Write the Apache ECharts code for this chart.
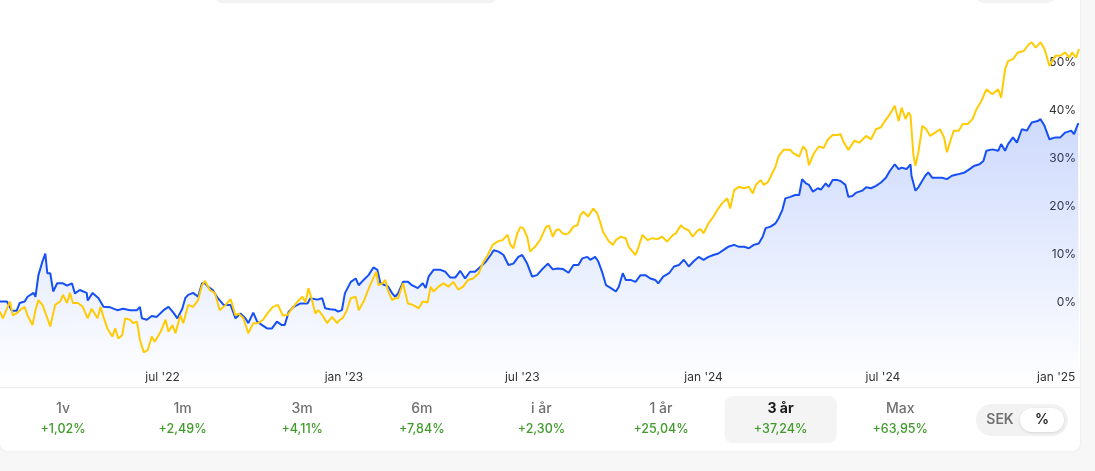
<!DOCTYPE html>
<html>
<head>
<meta charset="utf-8">
<script src="https://cdn.jsdelivr.net/npm/echarts@6/dist/echarts.min.js"></script>
<style>
  html, body { margin: 0; padding: 0; background: #f7f7f7; }
  #chart { width: 1095px; height: 471px; }
</style>
</head>
<body>
<div id="chart"></div>
<script>
// ---- data (day offsets from the first date, value in %) ----
const startDate = '2022-01-17';
const endDay = 1095;

const stockSeries = [[0,0.2],[7,0.2],[12,-1.7],[17,-1.7],[20,-0.1],[25,0.2],[28,1.2],[34,2.0],[36,1.2],[39,5.7],[43,8.5],[46,10.2],[48,6.1],[51,6.1],[54,2.3],[58,4.0],[64,4.0],[68,3.5],[73,4.0],[76,1.9],[81,2.6],[88,2.0],[89,0.4],[94,2.0],[100,0.9],[105,-0.9],[112,-1.0],[119,-1.6],[125,-1.3],[132,-1.6],[139,-1.6],[142,-0.9],[144,-3.3],[149,-3.6],[154,-2.8],[159,-3.0],[166,-1.6],[171,-0.9],[176,-2.1],[180,-3.3],[185,-1.3],[188,0.9],[191,1.6],[196,2.0],[201,1.2],[205,4.0],[208,4.0],[211,3.3],[216,2.6],[221,0.9],[227,-0.5],[234,-0.5],[239,-3.3],[244,-2.3],[249,-3.3],[252,-4.3],[257,-2.1],[261,-4.0],[266,-4.7],[271,-5.4],[276,-5.4],[281,-4.0],[286,-4.7],[289,-4.7],[293,-1.9],[298,-0.9],[305,-0.2],[312,-0.2],[315,0.9],[322,0.6],[327,0.9],[330,-1.2],[335,-1.4],[340,-1.5],[343,-1.9],[347,-1.6],[350,1.9],[356,4.3],[361,5.0],[364,3.6],[369,4.7],[374,5.7],[379,7.3],[383,6.8],[386,4.0],[391,3.6],[394,3.3],[398,1.9],[401,1.2],[404,1.9],[409,4.3],[414,4.3],[418,3.6],[424,3.0],[429,4.0],[432,3.0],[435,5.4],[440,6.8],[447,6.8],[452,6.4],[457,5.2],[462,5.2],[467,6.6],[472,5.0],[477,6.4],[482,6.4],[488,7.5],[493,8.5],[498,9.9],[501,10.9],[506,10.6],[511,9.9],[516,7.8],[521,8.1],[526,9.5],[530,9.9],[535,8.1],[540,5.4],[545,5.7],[551,7.1],[556,8.1],[561,6.9],[566,7.1],[571,7.0],[577,6.2],[582,7.8],[587,7.8],[591,9.2],[596,9.5],[599,8.9],[604,9.5],[607,8.6],[611,6.4],[615,3.6],[620,3.0],[625,2.3],[628,3.3],[632,6.1],[635,4.7],[640,4.7],[645,4.3],[650,5.7],[655,5.7],[660,5.0],[665,4.7],[668,4.0],[673,5.4],[679,6.1],[684,7.5],[689,7.8],[694,8.9],[699,7.5],[704,8.6],[709,9.5],[714,8.9],[719,9.5],[724,9.9],[729,10.2],[734,10.9],[739,11.6],[745,12.0],[750,11.6],[755,11.6],[760,11.3],[765,12.0],[770,12.3],[774,13.7],[777,15.5],[782,15.8],[787,16.5],[790,17.5],[794,19.3],[797,21.7],[802,22.0],[807,22.4],[811,22.4],[814,25.7],[818,24.8],[821,24.5],[825,23.1],[830,23.8],[833,23.5],[838,24.8],[841,24.1],[845,25.5],[850,25.5],[853,25.3],[858,24.5],[861,22.0],[865,22.2],[869,22.9],[875,23.3],[879,24.0],[884,23.8],[889,24.3],[894,25.0],[899,26.0],[903,27.4],[908,28.8],[912,27.8],[915,28.1],[920,27.8],[924,28.8],[925,26.4],[929,23.3],[932,24.0],[939,26.4],[942,27.1],[946,26.0],[951,26.0],[956,26.0],[961,25.7],[966,26.4],[972,26.7],[979,27.1],[984,27.8],[989,28.5],[994,28.8],[998,29.5],[1001,31.6],[1007,31.9],[1013,31.6],[1016,33.0],[1020,31.6],[1023,33.0],[1028,34.4],[1032,33.3],[1037,36.1],[1042,35.8],[1047,37.5],[1053,37.8],[1056,38.2],[1060,36.8],[1065,34.0],[1071,34.4],[1076,34.4],[1081,35.4],[1087,35.8],[1090,35.1],[1094,37.2],[1095,37.24]];

const indexSeries = [[0,-1.9],[3,-3.3],[7,-1.3],[10,0.2],[13,-2.7],[18,-2.1],[22,-1.3],[25,-0.9],[28,-2.7],[33,-4.7],[36,-1.6],[39,0.5],[43,-0.5],[46,-2.1],[51,-5.0],[56,-0.5],[61,0.2],[64,1.6],[68,-0.1],[71,2.0],[74,-0.1],[79,-0.1],[84,-0.9],[89,-3.3],[93,-1.3],[99,-3.3],[102,-0.9],[105,-3.0],[109,-5.4],[114,-7.1],[117,-5.4],[120,-7.5],[124,-6.8],[127,-3.3],[132,-3.6],[135,-4.3],[139,-4.0],[142,-7.8],[146,-10.4],[150,-9.9],[154,-7.1],[157,-8.2],[163,-6.1],[168,-3.6],[171,-6.1],[175,-4.7],[178,-6.4],[183,-2.7],[186,-4.3],[191,-0.5],[196,-0.9],[201,0.5],[205,3.6],[208,4.5],[213,2.6],[218,2.0],[223,-1.6],[229,-0.5],[234,0.7],[239,-2.7],[242,-2.3],[247,-3.3],[252,-6.4],[257,-4.3],[262,-4.3],[267,-3.6],[272,-2.1],[277,-0.9],[282,-0.5],[287,-2.7],[292,-2.6],[295,-1.6],[302,0.2],[307,1.2],[310,0.0],[313,3.0],[317,0.2],[320,-2.3],[323,-1.6],[328,-2.9],[332,-4.3],[337,-3.0],[342,-4.3],[345,-3.6],[348,-3.2],[352,-1.6],[356,0.9],[361,1.2],[364,-1.6],[369,0.2],[373,2.3],[378,4.7],[382,6.4],[384,3.6],[388,4.0],[391,4.7],[394,2.3],[398,0.5],[401,0.9],[404,0.9],[409,4.0],[414,-0.2],[419,-0.5],[425,-1.2],[429,0.2],[434,0.0],[437,3.3],[440,2.3],[445,3.3],[450,4.0],[455,3.3],[460,4.3],[465,2.7],[470,3.3],[475,4.7],[480,5.0],[486,6.1],[490,8.2],[495,9.9],[500,12.0],[505,12.7],[510,13.0],[515,14.1],[518,12.0],[521,11.3],[525,14.4],[528,15.7],[531,15.5],[535,13.7],[538,10.6],[543,11.6],[548,13.0],[554,15.7],[557,16.1],[561,13.7],[564,15.0],[567,15.3],[571,14.4],[574,14.2],[577,14.4],[582,15.8],[586,16.1],[589,18.2],[592,18.9],[597,17.9],[602,19.6],[606,18.6],[609,16.8],[612,14.7],[618,12.7],[622,12.0],[625,13.0],[630,13.7],[635,13.4],[638,11.6],[642,10.6],[645,9.9],[648,11.6],[652,14.1],[657,13.0],[662,13.4],[667,13.2],[672,13.7],[677,12.7],[683,14.1],[686,14.4],[691,16.1],[694,15.5],[699,15.0],[703,13.7],[708,15.0],[711,15.3],[714,14.4],[719,16.5],[724,17.9],[729,19.6],[733,20.7],[738,21.7],[741,19.6],[745,23.4],[750,24.1],[755,23.8],[760,24.1],[764,22.7],[767,24.5],[772,25.5],[775,24.5],[779,25.0],[782,26.2],[787,28.3],[790,30.4],[795,31.8],[802,31.8],[805,31.1],[811,30.4],[815,32.5],[818,31.8],[821,28.6],[826,31.1],[831,32.5],[836,32.2],[840,33.9],[845,34.9],[850,34.9],[853,35.1],[856,33.5],[861,31.8],[867,33.7],[872,33.3],[879,34.7],[884,34.0],[889,36.1],[894,36.5],[898,37.8],[903,39.2],[908,41.0],[912,37.8],[915,40.6],[919,38.2],[922,39.6],[924,39.0],[927,30.6],[929,28.5],[932,31.3],[936,36.8],[940,36.1],[944,34.7],[949,35.4],[954,36.1],[958,34.4],[961,31.3],[965,34.0],[968,35.8],[973,35.8],[977,37.2],[982,37.2],[987,38.2],[991,40.3],[996,42.0],[1001,44.4],[1007,43.4],[1013,44.4],[1016,42.7],[1020,48.6],[1023,50.3],[1028,50.7],[1033,52.1],[1039,52.4],[1044,53.8],[1047,54.2],[1051,53.1],[1056,54.2],[1060,52.8],[1065,49.3],[1071,51.4],[1076,51.4],[1081,52.1],[1085,51.0],[1088,52.1],[1092,51.0],[1095,52.8]];

const xTickDates  = ['2022-07-01','2023-01-01','2023-07-01','2024-01-01','2024-07-01','2025-01-01'];
const xTickLabels = ["jul '22","jan '23","jul '23","jan '24","jul '24","jan '25"];
const yTickValues = [0, 10, 20, 30, 40, 50];

const periodLabels = ['1v','1m','3m','6m','i år','1 år','3 år','Max'];
const periodValues = ['+1,02%','+2,49%','+4,11%','+7,84%','+2,30%','+25,04%','+37,24%','+63,95%'];
const selectedPeriod = '3 år';
const unitLabels = ['SEK','%'];

// ---- build ----
const DAY = 86400000;
function parseUTC(s){ const p = s.split('-').map(Number); return Date.UTC(p[0], p[1]-1, p[2]); }
const t0 = parseUTC(startDate);
const xTickDays = xTickDates.map(s => Math.round((parseUTC(s) - t0) / DAY));

const BLUE = '#1650F5';
const YELLOW = '#FFCB05';
const FONT = 'Inter, "Noto Sans", sans-serif';

const chart = echarts.init(document.getElementById('chart'), null, { renderer: 'canvas' });

const graphics = [];
graphics.push({ type:'rect', z:-100, silent:true, shape:{x:0, y:-20, width:1080, height:471, r:8},
  style:{fill:'#ffffff', shadowBlur:3, shadowColor:'rgba(0,0,0,0.08)'} });
graphics.push({ type:'rect', z:-90, silent:true, shape:{x:216, y:-20, width:280, height:23, r:6}, style:{fill:'#f3f3f3'} });
graphics.push({ type:'rect', z:-90, silent:true, shape:{x:977, y:-20, width:77, height:23, r:6}, style:{fill:'#f3f3f3'} });
graphics.push({ type:'line', z:10, silent:true, shape:{x1:0, y1:387.5, x2:1080, y2:387.5}, style:{stroke:'#ececec', lineWidth:1} });

const pStart = 63, pStep = 119.6;
periodLabels.forEach((lab, i) => {
  const cx = pStart + i * pStep;
  const sel = lab === selectedPeriod;
  if (sel) {
    graphics.push({ type:'rect', z:5, silent:true, shape:{x:cx-56, y:396, width:112, height:47, r:8}, style:{fill:'#f4f4f4'} });
  }
  graphics.push({ type:'text', z:12, silent:true, x:cx, y:409, style:{ text:lab, fill: sel ? '#1a1a1a' : '#707070',
    font: (sel ? 'bold ' : '500 ') + '14px ' + FONT, align:'center', verticalAlign:'middle' } });
  graphics.push({ type:'text', z:12, silent:true, x:cx, y:429, style:{ text:periodValues[i], fill:'#3f9c2a',
    font:'500 12.5px ' + FONT, align:'center', verticalAlign:'middle' } });
});
graphics.push({ type:'rect', z:5, silent:true, shape:{x:976, y:404, width:92, height:32, r:16}, style:{fill:'#f2f2f2'} });
graphics.push({ type:'rect', z:6, silent:true, shape:{x:1020, y:408, width:44, height:24, r:12},
  style:{fill:'#ffffff', shadowBlur:3, shadowColor:'rgba(0,0,0,0.12)', shadowOffsetY:1} });
graphics.push({ type:'text', z:12, silent:true, x:1000, y:420, style:{ text:unitLabels[0], fill:'#707070',
  font:'600 14px ' + FONT, align:'center', verticalAlign:'middle' } });
graphics.push({ type:'text', z:12, silent:true, x:1042, y:420, style:{ text:unitLabels[1], fill:'#1a1a1a',
  font:'600 14px ' + FONT, align:'center', verticalAlign:'middle' } });

const option = {
  animation: false,
  backgroundColor: '#f7f7f7',
  graphic: { elements: graphics },
  grid: { left: 0, right: 16, top: 2.5, bottom: 84.5, containLabel: false },
  xAxis: {
    type: 'value',
    min: 0, max: endDay,
    axisLine: { show: false }, axisTick: { show: false }, splitLine: { show: false },
    axisLabel: {
      customValues: xTickDays,
      showMinLabel: true, showMaxLabel: true,
      inside: true, margin: 3,
      color: '#333', fontSize: 12, fontFamily: FONT,
      formatter: function (val) {
        let best = 0, bd = Infinity;
        xTickDays.forEach((t, i) => { const d = Math.abs(t - val); if (d < bd) { bd = d; best = i; } });
        const s = xTickLabels[best];
        return best === xTickLabels.length - 1 ? '{e|' + s + '}' : s;
      },
      rich: { e: { color:'#333', fontSize:12, fontFamily:FONT, padding:[0,16,0,0] } }
    }
  },
  yAxis: {
    type: 'value', position: 'right',
    min: -17.5, max: 62.5,
    axisLine: { show: false }, axisTick: { show: false }, splitLine: { show: false },
    axisLabel: {
      customValues: yTickValues,
      inside: true, margin: 3,
      color: '#333', fontSize: 12, fontFamily: FONT,
      formatter: '{value}%'
    }
  },
  series: [
    {
      type: 'line', name: 'stock', z: 3,
      data: stockSeries,
      showSymbol: false, symbol: 'none',
      lineStyle: { color: BLUE, width: 2 },
      areaStyle: {
        origin: 'start',
        color: new echarts.graphic.LinearGradient(0, 0, 0, 1, [
          { offset: 0, color: 'rgba(22,80,245,0.30)' },
          { offset: 1, color: 'rgba(22,80,245,0.0)' }
        ])
      }
    },
    {
      type: 'line', name: 'index', z: 4,
      data: indexSeries,
      showSymbol: false, symbol: 'none',
      lineStyle: { color: YELLOW, width: 2 }
    }
  ]
};
chart.setOption(option);
</script>
</body>
</html>
